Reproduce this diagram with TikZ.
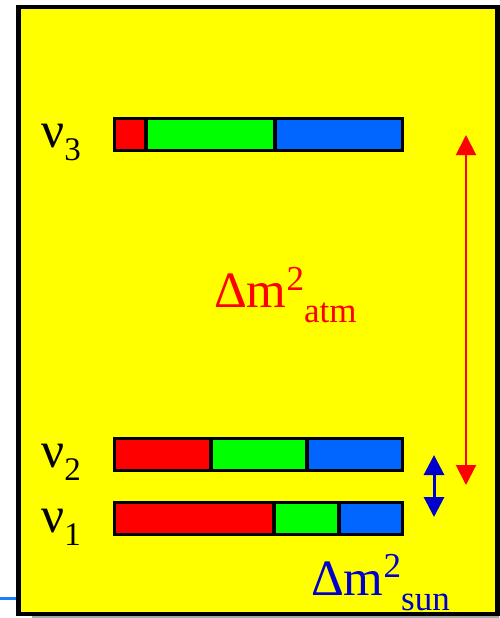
\documentclass[tikz,border=0pt]{standalone}
\usepackage{fontspec}
\setmainfont{Liberation Serif}
\usetikzlibrary{arrows.meta}
\definecolor{panel}{RGB}{255,255,0}
\definecolor{segred}{RGB}{255,0,0}
\definecolor{seggreen}{RGB}{0,255,0}
\definecolor{segblue}{RGB}{0,102,255}
\definecolor{sunblue}{RGB}{0,0,204}
\definecolor{edgeblue}{RGB}{30,125,255}
\newcommand{\bigtxt}{\fontsize{51}{60}\selectfont}
\newcommand{\suptxt}{\fontsize{35}{40}\selectfont}
\newcommand{\subtxt}{\fontsize{35}{40}\selectfont}
\newcommand{\nusub}{\fontsize{33}{40}\selectfont}
\tikzset{
  seg/.style={draw=black, line width=3.5pt, inner sep=0pt, outer sep=0pt,
              anchor=north west, minimum height=32pt},
  lbl/.style={inner sep=0pt, anchor=base west},
  twotip/.style={{Triangle[width=20pt,length=20pt]}-{Triangle[width=20pt,length=20pt]}}
}
\begin{document}
\begin{tikzpicture}[x=1pt,y=-1pt]
\useasboundingbox (0,0) rectangle (499,618);
% shadow and edge lines
\draw[gray!70, line width=2pt] (32,617) -- (499,617);
\draw[edgeblue, line width=3.5pt] (0,598.5) -- (17,598.5);
% yellow panel
\draw[fill=panel, line width=4.3pt] (18.5,6.8) rectangle (497.5,613.7);

% nu_3 bar
\node[seg, fill=segred,   minimum width=31.5pt]  (b3r) at (114.5,118.5) {};
\node[seg, fill=seggreen, minimum width=129pt]   (b3g) at (146,118.5) {};
\node[seg, fill=segblue,  minimum width=127.5pt] (b3b) at (275,118.5) {};
% nu_2 bar
\node[seg, fill=segred,   minimum width=96.5pt]  (b2r) at (114.5,438.5) {};
\node[seg, fill=seggreen, minimum width=96pt]    (b2g) at (211,438.5) {};
\node[seg, fill=segblue,  minimum width=95.5pt]  (b2b) at (307,438.5) {};
% nu_1 bar
\node[seg, fill=segred,   minimum width=159.5pt] (b1r) at (114.5,502.5) {};
\node[seg, fill=seggreen, minimum width=65pt]    (b1g) at (274,502.5) {};
\node[seg, fill=segblue,  minimum width=63.5pt]  (b1b) at (339,502.5) {};

% mass labels
\node[lbl] (n3) at (41,147) {\bigtxt ν\raisebox{-13pt}{\nusub 3}};
\node[lbl] (n2) at (41,467) {\bigtxt ν\raisebox{-13pt}{\nusub 2}};
\node[lbl] (n1) at (41,532) {\bigtxt ν\raisebox{-13pt}{\nusub 1}};

% splittings
\coordinate (atmtop) at (466,135);
\coordinate (atmbot) at (466,485);
\draw[segred, line width=2pt, twotip] (atmtop) -- (atmbot);
\coordinate (suntop) at (434,455);
\coordinate (sunbot) at (434,517);
\draw[sunblue, line width=3pt, twotip] (suntop) -- (sunbot);

\node[lbl, text=segred] (atm) at (214,307)
  {\bigtxt Δm\raisebox{17pt}{\suptxt 2}\raisebox{-15pt}{\subtxt atm}};
\node[lbl, text=sunblue] (sun) at (311,595)
  {\bigtxt Δm\raisebox{18pt}{\suptxt 2}\raisebox{-15pt}{\subtxt sun}};
\end{tikzpicture}
\end{document}
